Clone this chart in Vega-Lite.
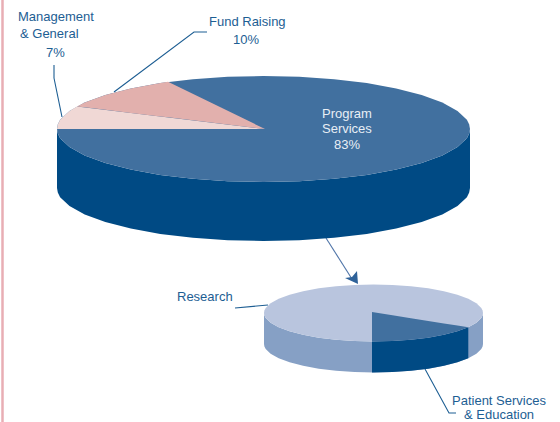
{"$schema":"https://vega.github.io/schema/vega-lite/v6.json","width":560,"height":422,"autosize":{"type":"none"},"padding":0,"background":"white","view":{"stroke":null},
"datasets":{"shapes":[
{"s":"mainWall","x":57,"y":129,"y2":188},{"s":"mainWall","x":57.8,"y":133.6,"y2":192.6},{"s":"mainWall","x":60.1,"y":138.2,"y2":197.2},{"s":"mainWall","x":69.5,"y":147.1,"y2":206.1},{"s":"mainWall","x":84.7,"y":155.5,"y2":214.5},{"s":"mainWall","x":105.3,"y":163.1,"y2":222.1},{"s":"mainWall","x":130.8,"y":169.6,"y2":228.6},{"s":"mainWall","x":160.25,"y":174.9,"y2":233.9},{"s":"mainWall","x":192.9,"y":178.8,"y2":237.8},{"s":"mainWall","x":227.7,"y":181.2,"y2":240.2},{"s":"mainWall","x":263.5,"y":182,"y2":241},{"s":"mainWall","x":299.3,"y":181.2,"y2":240.2},{"s":"mainWall","x":334.1,"y":178.8,"y2":237.8},{"s":"mainWall","x":366.75,"y":174.9,"y2":233.9},{"s":"mainWall","x":396.2,"y":169.6,"y2":228.6},{"s":"mainWall","x":421.7,"y":163.1,"y2":222.1},{"s":"mainWall","x":442.3,"y":155.5,"y2":214.5},{"s":"mainWall","x":457.5,"y":147.1,"y2":206.1},{"s":"mainWall","x":466.9,"y":138.2,"y2":197.2},{"s":"mainWall","x":469.2,"y":133.6,"y2":192.6},{"s":"mainWall","x":470,"y":129,"y2":188},
{"s":"mainTop","x":57,"y":129,"y2":129},{"s":"mainTop","x":57.8,"y":124.4,"y2":133.6},{"s":"mainTop","x":60.1,"y":119.8,"y2":138.2},{"s":"mainTop","x":69.5,"y":110.9,"y2":147.1},{"s":"mainTop","x":84.7,"y":102.5,"y2":155.5},{"s":"mainTop","x":105.3,"y":94.9,"y2":163.1},{"s":"mainTop","x":130.8,"y":88.4,"y2":169.6},{"s":"mainTop","x":160.25,"y":83.1,"y2":174.9},{"s":"mainTop","x":192.9,"y":79.2,"y2":178.8},{"s":"mainTop","x":227.7,"y":76.8,"y2":181.2},{"s":"mainTop","x":263.5,"y":76,"y2":182},{"s":"mainTop","x":299.3,"y":76.8,"y2":181.2},{"s":"mainTop","x":334.1,"y":79.2,"y2":178.8},{"s":"mainTop","x":366.75,"y":83.1,"y2":174.9},{"s":"mainTop","x":396.2,"y":88.4,"y2":169.6},{"s":"mainTop","x":421.7,"y":94.9,"y2":163.1},{"s":"mainTop","x":442.3,"y":102.5,"y2":155.5},{"s":"mainTop","x":457.5,"y":110.9,"y2":147.1},{"s":"mainTop","x":466.9,"y":119.8,"y2":138.2},{"s":"mainTop","x":469.2,"y":124.4,"y2":133.6},{"s":"mainTop","x":470,"y":129,"y2":129},
{"s":"management","x":57,"y":129,"y2":129},{"s":"management","x":57.8,"y":124.4,"y2":129},{"s":"management","x":60.1,"y":119.8,"y2":129},{"s":"management","x":69.5,"y":110.9,"y2":129},{"s":"management","x":77,"y":106.4,"y2":129},{"s":"management","x":265,"y":129,"y2":129},
{"s":"fund","x":77,"y":106.4,"y2":106.4},{"s":"fund","x":84.7,"y":102.5,"y2":107.3},{"s":"fund","x":105.3,"y":94.9,"y2":109.8},{"s":"fund","x":130.8,"y":88.4,"y2":112.9},{"s":"fund","x":160.25,"y":83.1,"y2":116.4},{"s":"fund","x":168,"y":81.8,"y2":117.3},{"s":"fund","x":265,"y":129,"y2":129},
{"s":"smallWall","x":264,"y":313,"y2":344},{"s":"smallWall","x":264.4,"y":315.5,"y2":346.5},{"s":"smallWall","x":265.7,"y":317.9,"y2":348.9},{"s":"smallWall","x":270.6,"y":322.7,"y2":353.7},{"s":"smallWall","x":278.7,"y":327.25,"y2":358.25},{"s":"smallWall","x":289.6,"y":331.3,"y2":362.3},{"s":"smallWall","x":303.1,"y":334.8,"y2":365.8},{"s":"smallWall","x":318.75,"y":337.7,"y2":368.7},{"s":"smallWall","x":336.1,"y":339.8,"y2":370.8},{"s":"smallWall","x":354.5,"y":341.1,"y2":372.1},{"s":"smallWall","x":373.5,"y":341.5,"y2":372.5},{"s":"smallWall","x":392.5,"y":341.1,"y2":372.1},{"s":"smallWall","x":410.9,"y":339.8,"y2":370.8},{"s":"smallWall","x":428.25,"y":337.7,"y2":368.7},{"s":"smallWall","x":443.9,"y":334.8,"y2":365.8},{"s":"smallWall","x":457.4,"y":331.3,"y2":362.3},{"s":"smallWall","x":468.3,"y":327.25,"y2":358.25},{"s":"smallWall","x":476.4,"y":322.7,"y2":353.7},{"s":"smallWall","x":481.3,"y":317.9,"y2":348.9},{"s":"smallWall","x":482.6,"y":315.5,"y2":346.5},{"s":"smallWall","x":483,"y":313,"y2":344},
{"s":"smallTop","x":264,"y":313,"y2":313},{"s":"smallTop","x":264.4,"y":310.5,"y2":315.5},{"s":"smallTop","x":265.7,"y":308.1,"y2":317.9},{"s":"smallTop","x":270.6,"y":303.3,"y2":322.7},{"s":"smallTop","x":278.7,"y":298.75,"y2":327.25},{"s":"smallTop","x":289.6,"y":294.7,"y2":331.3},{"s":"smallTop","x":303.1,"y":291.2,"y2":334.8},{"s":"smallTop","x":318.75,"y":288.3,"y2":337.7},{"s":"smallTop","x":336.1,"y":286.2,"y2":339.8},{"s":"smallTop","x":354.5,"y":284.9,"y2":341.1},{"s":"smallTop","x":373.5,"y":284.5,"y2":341.5},{"s":"smallTop","x":392.5,"y":284.9,"y2":341.1},{"s":"smallTop","x":410.9,"y":286.2,"y2":339.8},{"s":"smallTop","x":428.25,"y":288.3,"y2":337.7},{"s":"smallTop","x":443.9,"y":291.2,"y2":334.8},{"s":"smallTop","x":457.4,"y":294.7,"y2":331.3},{"s":"smallTop","x":468.3,"y":298.75,"y2":327.25},{"s":"smallTop","x":476.4,"y":303.3,"y2":322.7},{"s":"smallTop","x":481.3,"y":308.1,"y2":317.9},{"s":"smallTop","x":482.6,"y":310.5,"y2":315.5},{"s":"smallTop","x":483,"y":313,"y2":313},
{"s":"patientWall","x":372,"y":341.5,"y2":372.5},{"s":"patientWall","x":392.5,"y":341.1,"y2":372.1},{"s":"patientWall","x":410.9,"y":339.8,"y2":370.8},{"s":"patientWall","x":428.25,"y":337.7,"y2":368.7},{"s":"patientWall","x":443.9,"y":334.8,"y2":365.8},{"s":"patientWall","x":457.4,"y":331.3,"y2":362.3},{"s":"patientWall","x":468.3,"y":327.25,"y2":358.25},
{"s":"patient","x":372,"y":312,"y2":341.5},{"s":"patient","x":392.5,"y":315.2,"y2":341.1},{"s":"patient","x":410.9,"y":318.2,"y2":339.8},{"s":"patient","x":428.25,"y":320.9,"y2":337.7},{"s":"patient","x":443.9,"y":323.4,"y2":334.8},{"s":"patient","x":457.4,"y":325.5,"y2":331.3},{"s":"patient","x":468.3,"y":327.25,"y2":327.25},
{"s":"arrow","x":345,"y":278,"y2":278},{"s":"arrow","x":352,"y":277,"y2":281.2},{"s":"arrow","x":357,"y":271,"y2":283.5},{"s":"arrow","x":358,"y":284,"y2":284}
],
"lines":[
{"l":"mg","k":"leader","o":1,"x":54,"y":65},{"l":"mg","k":"leader","o":2,"x":54,"y":78},{"l":"mg","k":"leader","o":3,"x":62,"y":117},
{"l":"fr","k":"leader","o":1,"x":207,"y":32},{"l":"fr","k":"leader","o":2,"x":194,"y":32},{"l":"fr","k":"leader","o":3,"x":114,"y":92},
{"l":"re","k":"leader","o":1,"x":235,"y":308},{"l":"re","k":"leader","o":2,"x":268,"y":305},
{"l":"pa","k":"leader","o":1,"x":425,"y":369},{"l":"pa","k":"leader","o":2,"x":449,"y":413},{"l":"pa","k":"leader","o":3,"x":456,"y":413},
{"l":"ar","k":"arrow","o":1,"x":326,"y":238},{"l":"ar","k":"arrow","o":2,"x":352,"y":279}
],
"labels":[
{"t":"Management","c":"dark","x":18,"y":21},{"t":"& General","c":"dark","x":20,"y":38},{"t":"7%","c":"dark","x":46,"y":57},
{"t":"Fund Raising","c":"dark","x":209,"y":26},{"t":"10%","c":"dark","x":233,"y":44},
{"t":"Program","c":"light","x":322,"y":118},{"t":"Services","c":"light","x":322,"y":133},{"t":"83%","c":"light","x":334,"y":149},
{"t":"Research","c":"dark","x":177,"y":301},
{"t":"Patient Services","c":"dark","x":452,"y":405},{"t":"& Education","c":"dark","x":464,"y":419}
],
"edge":[{"x":2.5,"y":0},{"x":2.5,"y":422}]},
"layer":[
{"data":{"name":"edge"},"mark":{"type":"line","color":"#E8AEB4","strokeWidth":2.5},"encoding":{"x":{"field":"x","type":"quantitative","scale":{"domain":[0,560],"nice":false,"zero":false},"axis":null},"y":{"field":"y","type":"quantitative","scale":{"domain":[422,0],"nice":false,"zero":false},"axis":null}}},
{"data":{"name":"lines"},"mark":{"type":"line","strokeWidth":1.1},"encoding":{"x":{"field":"x","type":"quantitative","scale":{"domain":[0,560],"nice":false,"zero":false},"axis":null},"y":{"field":"y","type":"quantitative","scale":{"domain":[422,0],"nice":false,"zero":false},"axis":null},"order":{"field":"o"},"detail":{"field":"l"},"color":{"field":"k","type":"nominal","legend":null,"scale":{"domain":["leader","arrow"],"range":["#1D5E93","#4F74A8"]}}}},
{"data":{"name":"shapes"},"mark":{"type":"area","interpolate":"linear","orient":"vertical"},"encoding":{"x":{"field":"x","type":"quantitative","scale":{"domain":[0,560],"nice":false,"zero":false},"axis":null},"y":{"field":"y","type":"quantitative","scale":{"domain":[422,0],"nice":false,"zero":false},"axis":null},"y2":{"field":"y2"},"color":{"field":"s","type":"nominal","legend":null,"sort":null,"scale":{"domain":["mainWall","mainTop","management","fund","smallWall","smallTop","patientWall","patient","arrow"],"range":["#004A84","#41709F","#F0D8D5","#E2B0AD","#86A0C5","#B9C5DE","#004A84","#41709F","#2F6299"]}}}},
{"data":{"name":"labels"},"mark":{"type":"text","align":"left","baseline":"alphabetic","font":"Liberation Sans","fontSize":13},"encoding":{"x":{"field":"x","type":"quantitative","scale":{"domain":[0,560],"nice":false,"zero":false},"axis":null},"y":{"field":"y","type":"quantitative","scale":{"domain":[422,0],"nice":false,"zero":false},"axis":null},"text":{"field":"t"},"color":{"field":"c","type":"nominal","legend":null,"scale":{"domain":["dark","light"],"range":["#1D5E93","#E8EEF5"]}}}}
],
"resolve":{"scale":{"color":"independent"}}}
